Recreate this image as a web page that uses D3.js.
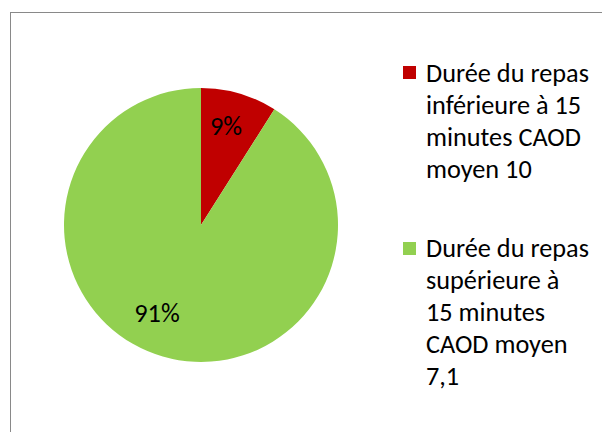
<!DOCTYPE html>
<html><head><meta charset="utf-8">
<script src="https://cdn.jsdelivr.net/npm/d3@7"></script>
<style>body{margin:0;background:#fff}svg{display:block}</style>
</head><body>
<svg id="c" width="602" height="432"></svg>
<script>
const categories = ["Durée du repas inférieure à 15 minutes CAOD moyen 10", "Durée du repas supérieure à 15 minutes CAOD moyen 7,1"];
const legendLines = [["Durée du repas","inférieure à 15","minutes CAOD","moyen 10"],["Durée du repas","supérieure à","15 minutes","CAOD moyen","7,1"]];
const values = [9, 91];
const labels = ["9%", "91%"];
const colors = ["#C00000", "#92D050"];

const svg = d3.select("#c");
const font = "Calibri, Carlito, 'Open Sans', sans-serif";
svg.append("rect").attr("x",10.5).attr("y",12.5).attr("width",640).attr("height",460)
  .attr("fill","#fff").attr("stroke","#898989").attr("stroke-width",1);

const cx=201, cy=225, r=137;
const pie = d3.pie().sort(null).value(d=>d);
const arc = d3.arc().innerRadius(0).outerRadius(r);
const g = svg.append("g").attr("transform",`translate(${cx},${cy})`);
const arcs = pie(values);
g.selectAll("path").data(arcs).join("path").attr("d",arc).attr("fill",(d,i)=>colors[i]);
const labelPos = [[25,-99],[-44,88]];
const pl = g.selectAll("text").data(arcs).join("text")
  .attr("x",(d,i)=>labelPos[i][0]).attr("y",(d,i)=>labelPos[i][1])
  .attr("text-anchor","middle").attr("dominant-baseline","central")
  .attr("font-family",font).attr("font-size",20).attr("fill","#000")
  .text((d,i)=>labels[i]);

const legY=[66,242], baseY=[82,257];
legendLines.forEach((lines,k)=>{
  svg.append("rect").attr("x",403).attr("y",legY[k]).attr("width",13).attr("height",13).attr("fill",colors[k]);
  const t = svg.append("text").attr("class","leg").attr("font-family",font).attr("font-size",21).attr("fill","#000");
  lines.forEach((l,j)=>t.append("tspan").attr("x",426).attr("y",baseY[k]+j*32).text(l));
});
const first = svg.select("text.leg tspan").node();
const w = first.getComputedTextLength();
const fs = 21*163/w;
svg.selectAll("text.leg").attr("font-size",fs);
pl.attr("font-size",fs);
</script>
</body></html>
